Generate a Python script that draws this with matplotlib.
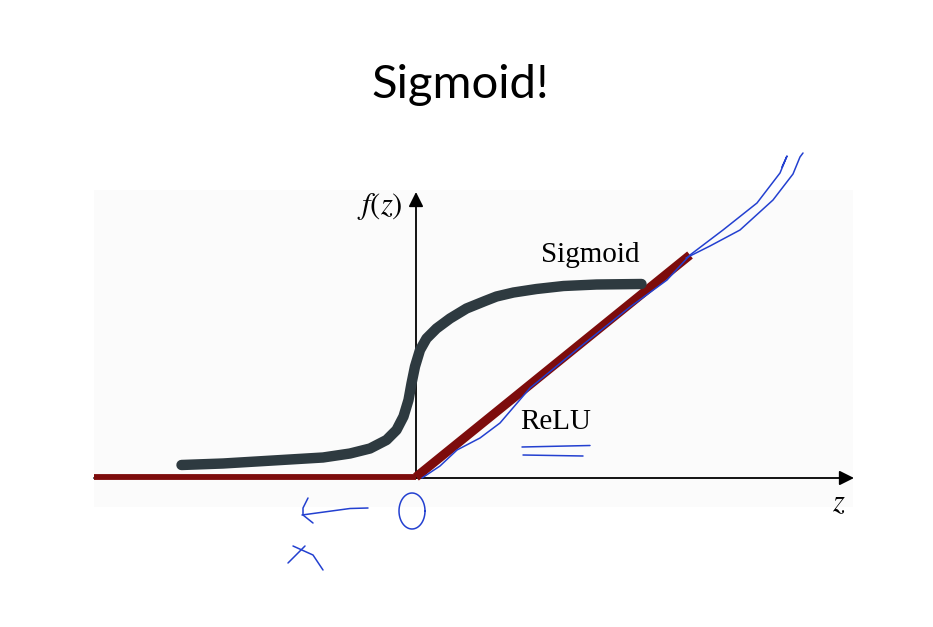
import numpy as np
import matplotlib.pyplot as plt
from matplotlib.patches import Rectangle

plt.rcParams['mathtext.fontset'] = 'stix'

# sigmoid curve (z, f(z))
sig_z = [-4.69, -3.86, -2.86, -1.86, -1.32, -0.92, -0.59, -0.39, -0.25, -0.15, -0.09, -0.02,
         0.08, 0.21, 0.41, 0.68, 1.01, 1.38, 1.61, 1.95, 2.41, 2.95, 3.61, 4.51]
sig_f = [0.24, 0.27, 0.33, 0.39, 0.47, 0.57, 0.74, 0.94, 1.21, 1.54, 1.87, 2.21,
         2.54, 2.77, 2.97, 3.17, 3.37, 3.52, 3.61, 3.69, 3.76, 3.82, 3.85, 3.86]

# relu: flat part and ramp
relu_flat_z = [-6.44, 0.0]
relu_flat_f = [0.0, 0.0]
relu_ramp_z = [0.0, 5.48]
relu_ramp_f = [0.0, 4.44]

# hand drawn blue pen strokes
pen_a_x = [0.12, 0.48, 0.82, 1.28, 1.68, 2.28, 3.28, 4.28, 5.02, 5.48, 6.14, 6.82, 7.28, 7.42, 7.32]
pen_a_y = [-0.02, 0.22, 0.54, 0.78, 1.08, 1.78, 2.60, 3.40, 3.94, 4.44, 4.94, 5.48, 6.08, 6.42, 6.20]
pen_b_x = [5.40, 5.88, 6.48, 7.14, 7.54, 7.68, 7.74]
pen_b_y = [4.38, 4.62, 4.94, 5.54, 6.06, 6.40, 6.48]
under1_x, under1_y = [2.12, 3.48], [0.60, 0.63]
under2_x, under2_y = [2.14, 3.34], [0.44, 0.42]
left_x = [-0.96, -1.32, -2.28]
left_y = [-0.62, -0.63, -0.76]
head_x = [-2.16, -2.26, -2.26, -2.06]
head_y = [-0.42, -0.62, -0.76, -0.92]
x1_x, x1_y = [-2.56, -2.22], [-1.72, -1.38]
x2_x, x2_y = [-2.46, -2.06, -1.86], [-1.38, -1.56, -1.86]
t = np.linspace(0, 2 * np.pi, 60)
zero_x = -0.08 + 0.26 * np.cos(t)
zero_y = -0.68 + 0.36 * np.sin(t)

px = 50.0  # pixels per unit
fig = plt.figure(figsize=(9.33, 6.27), dpi=100)
ax = fig.add_axes([0, 0, 1, 1])
ax.set_xlim(-416 / px, (933 - 416) / px)
ax.set_ylim((477 - 627) / px, 477 / px)
ax.axis('off')

ax.add_patch(Rectangle((-6.44, -0.6), 15.18, 6.34, facecolor='#fbfbfb', edgecolor='none', zorder=0))

# axes arrows
ax.annotate('', xy=(8.76, -0.02), xytext=(-6.44, -0.02),
            arrowprops=dict(arrowstyle='-|>', mutation_scale=22, lw=1.3, color='black', shrinkA=0, shrinkB=0), zorder=2)
ax.annotate('', xy=(0.0, 5.7), xytext=(0.0, -0.02),
            arrowprops=dict(arrowstyle='-|>', mutation_scale=22, lw=1.3, color='black', shrinkA=0, shrinkB=0), zorder=2)

ax.plot(relu_flat_z, relu_flat_f, color='#7d0c0c', lw=4.2, solid_capstyle='butt', zorder=3)
ax.plot(relu_ramp_z, relu_ramp_f, color='#7d0c0c', lw=6.5, solid_capstyle='butt', zorder=3)
ax.plot(sig_z, sig_f, color='#2e3a40', lw=7.5, solid_capstyle='round', solid_joinstyle='round', zorder=3)

serif = 'Liberation Serif'
ax.text(-0.72, 5.42, '$f(z)$', fontsize=22, ha='center', va='center')
ax.text(3.48, 4.44, 'Sigmoid', fontsize=21, family=serif, ha='center', va='center')
ax.text(2.8, 1.1, 'ReLU', fontsize=21, family=serif, ha='center', va='center')
ax.text(8.46, -0.52, '$z$', fontsize=22, ha='center', va='center')

pen = dict(color='#2340d0', lw=1.1, solid_capstyle='round', solid_joinstyle='round', zorder=4)
for xs, ys in [(pen_a_x, pen_a_y), (pen_b_x, pen_b_y), (under1_x, under1_y), (under2_x, under2_y),
               (left_x, left_y), (head_x, head_y), (x1_x, x1_y), (x2_x, x2_y), (zero_x, zero_y)]:
    ax.plot(xs, ys, **pen)

fig.text(460 / 933, 1 - 85 / 627, 'Sigmoid!', fontsize=34, family='Lato', ha='center', va='center')

fig.savefig('out.png', dpi=100)
